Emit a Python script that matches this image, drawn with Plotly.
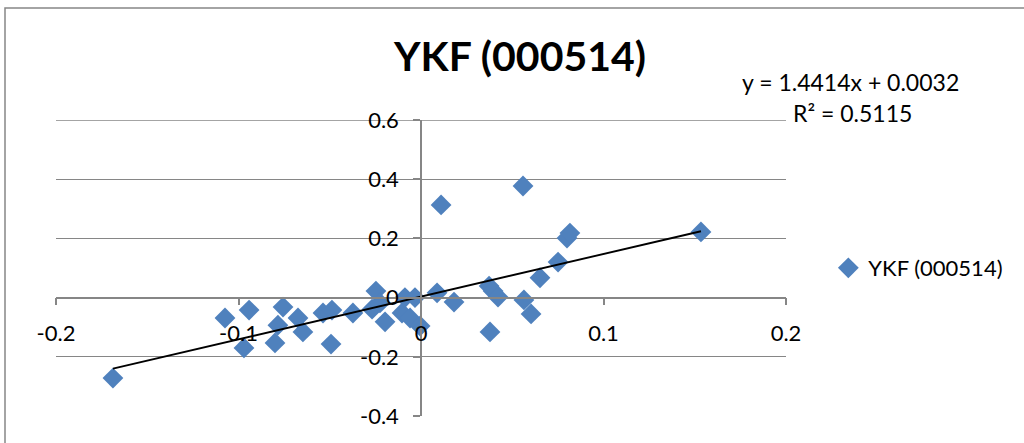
import plotly.graph_objects as go

# Data
x_vals = [-0.1688, -0.1074, -0.0942, -0.0970, -0.0756, -0.0784, -0.0800, -0.0674,
          -0.0647, -0.0537, -0.0488, -0.0493, -0.0373, -0.0268, -0.0247, -0.0225,
          -0.0197, -0.0104, -0.0088, -0.0060, -0.0033, -0.0005, 0.0088, 0.0110,
          0.0181, 0.0378, 0.0373, 0.0395, 0.0422, 0.0559, 0.0564, 0.0603,
          0.0652, 0.0751, 0.0800, 0.0816, 0.1534]
y_vals = [-0.272, -0.069, -0.042, -0.170, -0.032, -0.093, -0.153, -0.069,
          -0.116, -0.052, -0.042, -0.157, -0.052, -0.039, 0.022, -0.018,
          -0.082, -0.052, 0.000, -0.069, 0.000, -0.096, 0.016, 0.313,
          -0.015, -0.116, 0.039, 0.022, 0.002, 0.377, -0.008, -0.055,
          0.067, 0.120, 0.201, 0.218, 0.222]

series_name = "YKF (000514)"
title_text = "YKF (000514)"
slope = 1.4414
intercept = 0.0032
r2 = 0.5115
x_ticks = [-0.2, -0.1, 0, 0.1, 0.2]
x_tick_labels = ["-0.2", "-0.1", "0", "0.1", "0.2"]
y_ticks = [-0.4, -0.2, 0, 0.2, 0.4, 0.6]
y_tick_labels = ["-0.4", "-0.2", "0", "0.2", "0.4", "0.6"]

trend_x = [min(x_vals), max(x_vals)]
trend_y = [slope * v + intercept for v in trend_x]

FONT = "Lato, Calibri, Carlito, sans-serif"
GRID = "#868686"

fig = go.Figure()
fig.add_trace(go.Scatter(
    x=x_vals, y=y_vals, mode="markers", name=series_name,
    marker=dict(symbol="diamond", size=16, color="#4F81BD", line=dict(width=0)),
))
fig.add_trace(go.Scatter(
    x=trend_x, y=trend_y, mode="lines", showlegend=False,
    line=dict(color="black", width=1.9), hoverinfo="skip",
))

fig.update_layout(
    width=1024, height=443,
    margin=dict(l=56, r=238, t=120, b=27, autoexpand=False),
    paper_bgcolor="white", plot_bgcolor="white",
    font=dict(family=FONT, size=22, color="black"),
    title=dict(text="<b>" + title_text + "</b>", x=(520) / 1024, xanchor="center",
               y=1 - 57 / 443, yanchor="middle",
               font=dict(family=FONT, size=41, color="black")),
    showlegend=True,
    legend=dict(x=1.058, y=0.5, xanchor="left", yanchor="middle",
                font=dict(family=FONT, size=22), bgcolor="rgba(0,0,0,0)"),
    xaxis=dict(range=[-0.2, 0.2], tickvals=x_ticks, ticktext=x_tick_labels,
               showgrid=False, zeroline=False, showline=True, linecolor=GRID, linewidth=1.5,
               ticks="outside", ticklen=7, tickcolor=GRID, tickwidth=1.5,
               anchor="free", position=0.4, ticklabelstandoff=9, automargin=False,
               tickfont=dict(family=FONT, size=22)),
    yaxis=dict(range=[-0.4, 0.6], tickvals=y_ticks, ticktext=y_tick_labels,
               showgrid=True, gridcolor=GRID, gridwidth=1.3, zeroline=False,
               showline=True, linecolor=GRID, linewidth=1.5,
               ticks="outside", ticklen=7, tickcolor=GRID, tickwidth=1.5,
               anchor="free", position=0.5, ticklabelstandoff=10, automargin=False,
               tickfont=dict(family=FONT, size=22)),
    annotations=[
        dict(text=f"y = {slope}x + {intercept}", xref="paper", yref="paper",
             x=(851 - 56) / 730, y=(416 - 82) / 296, xanchor="center", yanchor="middle",
             showarrow=False, font=dict(family=FONT, size=23)),
        dict(text=f"R² = {r2}", xref="paper", yref="paper",
             x=(852 - 56) / 730, y=(416 - 113) / 296, xanchor="center", yanchor="middle",
             showarrow=False, font=dict(family=FONT, size=23)),
    ],
    shapes=[
        dict(type="rect", xref="paper", yref="paper",
             x0=(5 - 56) / 730, x1=(1040 - 56) / 730,
             y0=(416 - 460) / 296, y1=(416 - 8) / 296,
             line=dict(color=GRID, width=1.5), fillcolor="rgba(0,0,0,0)", layer="below"),
        # top gridline (Plotly omits the gridline lying on the plot edge)
        dict(type="line", xref="paper", yref="y", x0=0, x1=1,
             y0=y_ticks[-1], y1=y_ticks[-1],
             line=dict(color=GRID, width=1.3), layer="below"),
    ],
)

fig.write_html("out.html", config={"displayModeBar": False},
               post_script="document.body.style.margin='0';")
